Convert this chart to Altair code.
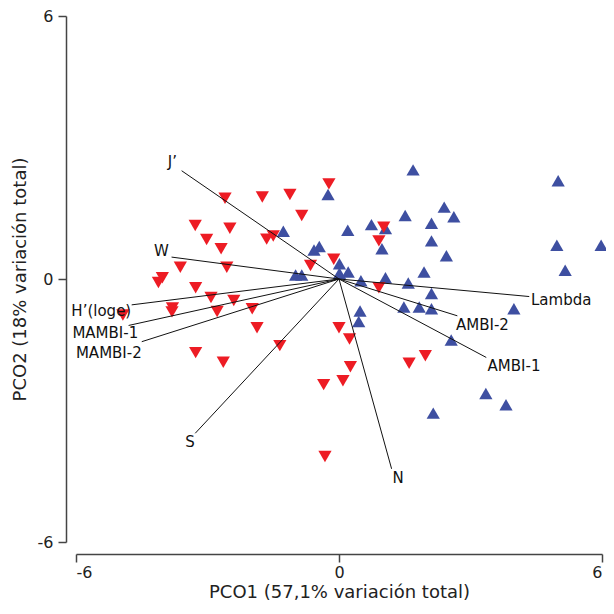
import altair as alt
import pandas as pd

# Red group (triangle-down)
red_x = [-0.23, -2.60, -1.75, -1.12, -0.85, -3.28, -2.49, -3.02, -2.69, -1.65,
         -1.50, 1.02, 0.91, -0.12, -0.65, -3.62, -2.56, -4.03, -4.12, -3.27,
         -2.92, -2.40, -3.80, -3.81, -2.78, -1.98, -4.93, -1.87, -3.27, -2.64,
         -1.35, 0.91, 0.00, 0.24, 0.26, 0.09, -0.35, 1.60, 1.97, -0.32]
red_y = [2.17, 1.84, 1.87, 1.93, 1.45, 1.22, 1.16, 0.90, 0.69, 0.91,
         0.98, 1.18, 0.87, 0.45, 0.31, 0.27, 0.27, 0.03, -0.08, -0.20,
         -0.42, -0.49, -0.66, -0.75, -0.74, -0.68, -0.82, -1.11, -1.68, -1.90,
         -1.52, -0.20, -1.11, -1.37, -2.00, -2.32, -2.41, -1.92, -1.75, -4.05]

# Blue group (triangle-up)
blue_x = [1.69, 5.00, -0.25, 2.40, 2.62, 1.51, 2.11, 0.74, 1.06, 0.20,
          -1.27, 2.11, 0.98, -0.45, -0.57, 2.45, 4.97, 5.98, 5.16, 0.01,
          -0.99, -0.85, 0.01, 0.21, 0.50, 1.06, 1.94, 1.58, 2.11, 1.48,
          1.83, 2.11, 3.99, 0.48, 0.45, 2.56, 3.35, 3.81, 2.15]
blue_y = [2.49, 2.24, 1.93, 1.64, 1.42, 1.45, 1.27, 1.24, 1.15, 1.11,
          1.09, 0.87, 0.69, 0.74, 0.66, 0.53, 0.77, 0.77, 0.20, 0.35,
          0.09, 0.09, 0.13, 0.16, -0.04, 0.03, 0.16, -0.09, -0.33, -0.64,
          -0.64, -0.68, -0.68, -0.73, -0.97, -1.39, -2.61, -2.87, -3.06]

# Vectors
vec_names = ["J’", "W", "H’(loge)", "MAMBI-1", "MAMBI-2", "S", "N", "AMBI-1", "AMBI-2", "Lambda"]
vec_x = [-3.59, -3.82, -4.73, -4.80, -4.50, -3.28, 1.20, 3.36, 2.70, 4.34]
vec_y = [2.47, 0.50, -0.59, -1.06, -1.43, -3.52, -4.33, -1.79, -0.84, -0.40]
lab_x = [-3.80, -4.05, -4.74, -4.58, -4.50, -3.40, 1.35, 3.39, 2.67, 4.38]
lab_y = [2.68, 0.65, -0.74, -1.23, -1.69, -3.71, -4.53, -1.99, -1.04, -0.48]
lab_align = ["center", "center", "right", "right", "right", "center", "center", "left", "left", "left"]

red_df = pd.DataFrame({"x": red_x, "y": red_y})
blue_df = pd.DataFrame({"x": blue_x, "y": blue_y})
vec_df = pd.DataFrame({"name": vec_names, "x0": 0.0, "y0": 0.0, "x": vec_x, "y": vec_y,
                       "lx": lab_x, "ly": lab_y, "align": lab_align})

FONT = "DejaVu Sans"
RED = "#ED1C24"
BLUE = "#3E4FA1"

xscale = alt.Scale(domain=[-6, 6], nice=False, zero=False)
yscale = alt.Scale(domain=[-6, 6], nice=False, zero=False)

xaxis = alt.Axis(values=[-6, 0, 6], title="PCO1 (57,1% variación total)", grid=False,
                 offset=12, tickSize=8, labelPadding=2, labelFontSize=16, titleFontSize=18,
                 titleFontWeight="normal", titlePadding=3, domainColor="#444", tickColor="#444",
                 domainWidth=1.5, tickWidth=1.5, labelColor="#222", titleColor="#222",
                 labelFont=FONT, titleFont=FONT, labelExpr="datum.value + ''")
yaxis = alt.Axis(values=[-6, 0, 6], title="PCO2 (18% variación total)", grid=False,
                 offset=10, tickSize=8, labelPadding=5, labelFontSize=16, titleFontSize=18,
                 titleFontWeight="normal", titlePadding=8, domainColor="#444", tickColor="#444",
                 domainWidth=1.5, tickWidth=1.5, labelColor="#222", titleColor="#222",
                 labelFont=FONT, titleFont=FONT, labelExpr="datum.value + ''")

blue_layer = alt.Chart(blue_df).mark_point(shape="triangle-up", filled=True, size=175,
                                           color=BLUE, opacity=1).encode(
    x=alt.X("x:Q", scale=xscale, axis=xaxis),
    y=alt.Y("y:Q", scale=yscale, axis=yaxis),
)
red_layer = alt.Chart(red_df).mark_point(shape="triangle-down", filled=True, size=175,
                                         color=RED, opacity=1).encode(
    x=alt.X("x:Q", scale=xscale),
    y=alt.Y("y:Q", scale=yscale),
)
rules = alt.Chart(vec_df).mark_rule(color="#111", strokeWidth=1).encode(
    x=alt.X("x0:Q", scale=xscale),
    y=alt.Y("y0:Q", scale=yscale),
    x2="x:Q",
    y2="y:Q",
)

text_layers = []
for al in ["center", "right", "left"]:
    text_layers.append(
        alt.Chart(vec_df).transform_filter(alt.datum.align == al).mark_text(
            align=al, baseline="middle", font=FONT, fontSize=15, color="#111"
        ).encode(
            x=alt.X("lx:Q", scale=xscale),
            y=alt.Y("ly:Q", scale=yscale),
            text="name:N",
        )
    )

chart = alt.layer(blue_layer, red_layer, rules, *text_layers).properties(
    width=526, height=526,
    autosize=alt.AutoSizeParams(type="none"),
    padding={"left": 68, "top": 8, "right": 4, "bottom": 60},
).configure_view(stroke=None)

chart.save("out.html", embed_options={"renderer": "svg", "actions": False})
